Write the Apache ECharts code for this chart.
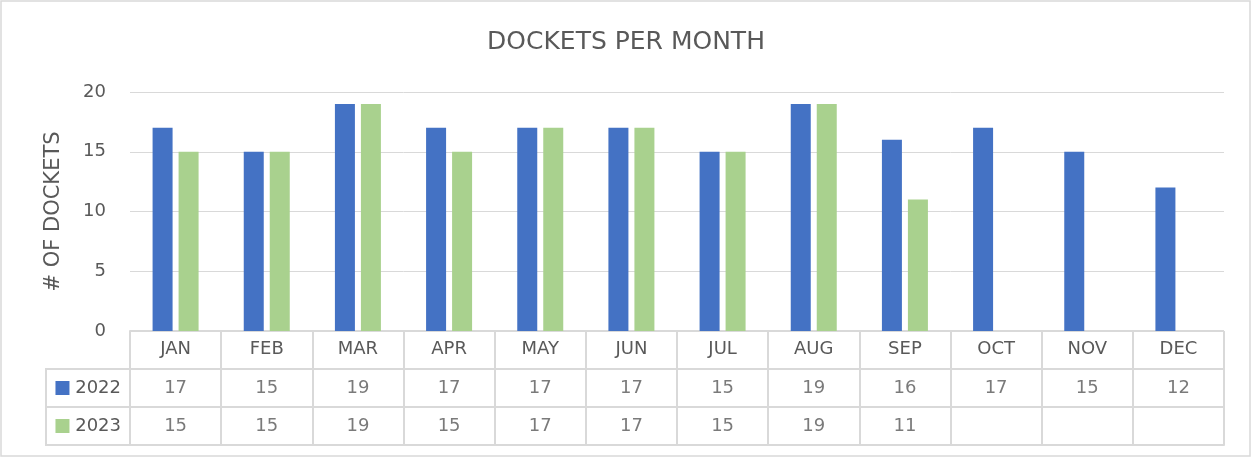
<!DOCTYPE html>
<html><head><meta charset="utf-8">
<script src="https://cdn.jsdelivr.net/npm/echarts@6/dist/echarts.min.js"></script>
<style>html,body{margin:0;padding:0;background:#fff}#c{width:1252px;height:458px}</style>
</head><body><div id="c"></div>
<script>
const months = ['JAN','FEB','MAR','APR','MAY','JUN','JUL','AUG','SEP','OCT','NOV','DEC'];
const seriesNames = ['2022','2023'];
const values2022 = [17,15,19,17,17,17,15,19,16,17,15,12];
const values2023 = [15,15,19,15,17,17,15,19,11,null,null,null];
const yTicks = [0,5,10,15,20];

const colors = ['#4472C4','#A9D18E'];
const grey = '#595959';
const lineC = '#D9D9D9';
const font = '"DejaVu Sans", "Open Sans", sans-serif';

const tableCells = [];
[values2022, values2023].forEach((arr, r) => {
  arr.forEach((v, i) => { if (v != null) tableCells.push([i, seriesNames[r], v]); });
});

const chart = echarts.init(document.getElementById('c'));
chart.setOption({
  animation: false,
  textStyle: {fontFamily: font},
  title: {text: 'DOCKETS PER MONTH', left: 'center', top: 25,
    textStyle: {fontSize: 25, fontWeight: 'normal', color: grey, fontFamily: font}},
  grid: [
    {left: 130, right: 28, top: 92, height: 239},
    {left: 130, right: 28, top: 331, height: 114}
  ],
  xAxis: [
    {type: 'category', gridIndex: 0, data: months,
      axisLine: {show: true, lineStyle: {color: lineC}}, axisTick: {show: false},
      axisLabel: {show: true, margin: 9, fontSize: 18, color: grey, fontFamily: font}},
    {type: 'category', gridIndex: 1, data: months, boundaryGap: true,
      axisLine: {show: true, lineStyle: {color: lineC, width: 2}}, axisTick: {show: false},
      axisLabel: {show: false},
      splitLine: {show: true, lineStyle: {color: lineC, width: 2}}}
  ],
  yAxis: [
    {type: 'value', gridIndex: 0, min: yTicks[0], max: yTicks[yTicks.length-1], interval: 5,
      axisLine: {show: false}, axisTick: {show: false},
      axisLabel: {fontSize: 18, color: grey, margin: 24, fontFamily: font},
      splitLine: {lineStyle: {color: lineC}},
      name: '# OF DOCKETS', nameLocation: 'middle', nameRotate: 90, nameGap: 66,
      nameTextStyle: {fontSize: 21, color: grey, fontFamily: font}},
    {type: 'category', gridIndex: 1, data: [''].concat(seriesNames), inverse: true,
      axisLine: {show: true, lineStyle: {color: lineC, width: 2}}, axisTick: {show: false},
      splitLine: {show: true, lineStyle: {color: lineC, width: 2}},
      axisLabel: {margin: 9, fontSize: 18, color: grey, fontFamily: font,
        formatter: function (v) {
          const i = seriesNames.indexOf(v);
          if (i < 0) return '';
          return '{s' + i + '|} ' + v;
        },
        rich: {
          s0: {width: 14, height: 14, backgroundColor: colors[0]},
          s1: {width: 14, height: 14, backgroundColor: colors[1]}
        }}}
  ],
  graphic: [
    {type: 'rect', shape: {x: 1, y: 1, width: 1249, height: 455}, style: {fill: 'none', stroke: lineC, lineWidth: 1.5}, silent: true},
    {type: 'rect', shape: {x: 46, y: 369, width: 84, height: 76}, style: {fill: 'none', stroke: lineC, lineWidth: 2}, silent: true},
    {type: 'line', shape: {x1: 46, y1: 407, x2: 130, y2: 407}, style: {stroke: lineC, lineWidth: 2}, silent: true}
  ],
  series: [
    {name: seriesNames[0], type: 'bar', xAxisIndex: 0, yAxisIndex: 0, data: values2022,
      barWidth: 20, barGap: '30%', itemStyle: {color: colors[0]}, silent: true},
    {name: seriesNames[1], type: 'bar', xAxisIndex: 0, yAxisIndex: 0, data: values2023,
      barWidth: 20, barGap: '30%', itemStyle: {color: colors[1]}, silent: true},
    {type: 'scatter', xAxisIndex: 1, yAxisIndex: 1, data: tableCells, symbolSize: 0, silent: true,
      label: {show: true, position: 'inside', formatter: p => String(p.value[2]),
        fontSize: 18, color: grey, fontFamily: font}}
  ]
});
</script></body></html>
